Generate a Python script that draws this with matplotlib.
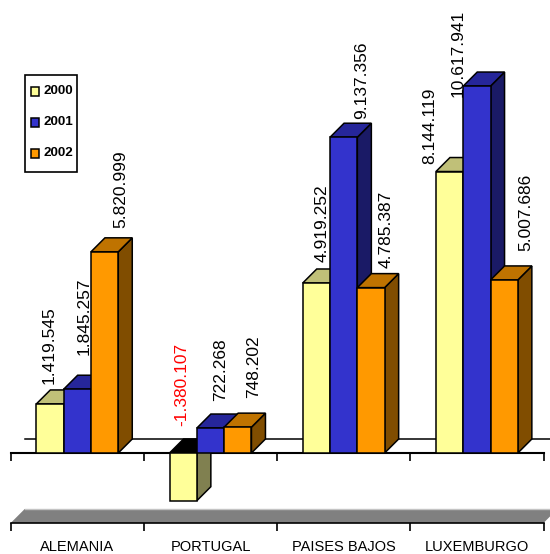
import matplotlib
matplotlib.use("Agg")
import matplotlib.pyplot as plt
import numpy as np
from matplotlib.patches import Polygon, Rectangle
from matplotlib.transforms import IdentityTransform

plt.rcParams['font.family'] = ['Liberation Sans', 'DejaVu Sans']

# data
paises = ['ALEMANIA', 'PORTUGAL', 'PAISES BAJOS', 'LUXEMBURGO']
years = ['2000', '2001', '2002']
v2000 = [1419545, -1380107, 4919252, 8144119]
v2001 = [1845257, 722268, 9137356, 10617941]
v2002 = [5820999, 748202, 4785387, 5007686]
labels2000 = ['1.419.545', '-1.380.107', '4.919.252', '8.144.119']
labels2001 = ['1.845.257', '722.268', '9.137.356', '10.617.941']
labels2002 = ['5.820.999', '748.202', '4.785.387', '5.007.686']

# colours: front, top, side
c_front = ['#FFFF99', '#3333CC', '#FF9900']
c_top = ['#C0C078', '#26269A', '#BF7300']
c_side = ['#808050', '#1A1A66', '#804D00']

W, H = 550, 554
PX_CAT = 133.2   # px per category
PX_UNIT = 34.56 / 1e6   # px per unit of value
X0 = 10.7
Y0 = 453
DEPTH = 14
BAR_W = 27.3 / PX_CAT

fig = plt.figure(figsize=(W / 100, H / 100), dpi=100)
ax = fig.add_axes([0, 0, 1, 1])
ax.set_xlim(-X0 / PX_CAT, (W - X0) / PX_CAT)
ax.set_ylim(-(H - Y0) / PX_UNIT, Y0 / PX_UNIT)
dx = DEPTH / PX_CAT
dy = DEPTH / PX_UNIT
px_y = 1 / PX_UNIT
LW = 1.1

for s in ['top', 'left', 'right']:
    ax.spines[s].set_visible(False)

# back line and front line of the zero level
ax.plot([dx, ax.get_xlim()[1]], [dy, dy], color='black', lw=LW, zorder=1)
ax.plot([0, 4], [0, 0], color='black', lw=1.5, zorder=1)
ax.vlines(range(5), -8 * px_y, 0, color='black', lw=1.2, zorder=1)

# grey floor
floor = -70 * px_y
ax.add_patch(Polygon([(0, floor), (dx, floor + dy), (4 + dx, floor + dy), (4, floor)],
                     closed=True, facecolor='#808080', edgecolor='none', zorder=1))
ax.plot([dx, ax.get_xlim()[1]], [floor + dy, floor + dy], color='#C4C4C4', lw=1, zorder=1)

# bottom axis with the categories
ax.spines['bottom'].set_position(('data', floor))
ax.spines['bottom'].set_bounds(0, 4)
ax.spines['bottom'].set_linewidth(1.2)
ax.set_yticks([])
ax.set_xticks(range(5))
ax.set_xticklabels([])
ax.tick_params(axis='x', which='major', length=5.8, width=1.2)
ax.set_xticks(np.arange(4) + 0.5, minor=True)
ax.set_xticklabels(paises, minor=True, fontsize=10.5)
ax.tick_params(axis='x', which='minor', length=0, pad=12)


def bar3d(x, val, k, z):
    top = max(val, 0)
    bot = min(val, 0)
    front = [(x, bot), (x + BAR_W, bot), (x + BAR_W, top), (x, top)]
    top_f = [(x, top), (x + BAR_W, top), (x + BAR_W + dx, top + dy), (x + dx, top + dy)]
    side = [(x + BAR_W, bot), (x + BAR_W + dx, bot + dy), (x + BAR_W + dx, top + dy), (x + BAR_W, top)]
    # the negative bar shows its dark inside on top
    ax.add_patch(Polygon(side, facecolor=c_side[k], edgecolor='black', lw=LW, zorder=z))
    ax.add_patch(Polygon(top_f, facecolor='black' if val < 0 else c_top[k], edgecolor='black', lw=LW, zorder=z))
    ax.add_patch(Polygon(front, facecolor=c_front[k], edgecolor='black', lw=LW, zorder=z))


series = [v2000, v2001, v2002]
names = [labels2000, labels2001, labels2002]
# label position in pixels: x centre and bottom end of the text
label_x = [[49, 84.5, 120.5], [181.5, 220.5, 253.5], [322.5, 361.5, 386.5], [429.5, 458, 525.5]]
label_y = [[384, 355, 228], [426, 401, 398], [262, 119, 268], [164, 97, 251]]

z = 2
for i in range(4):
    for k in range(3):
        x = i + 0.5 - 1.5 * BAR_W + k * BAR_W
        bar3d(x, series[k][i], k, z)
        z += 1
        ax.text(label_x[i][k], H - label_y[i][k], names[k][i], rotation=90,
                ha='center', va='bottom', fontsize=12.5,
                color='red' if series[k][i] < 0 else 'black',
                transform=IdentityTransform(), zorder=50)

# legend box, written by hand to get its tight shape
pix = IdentityTransform()
ax.add_patch(Rectangle((24.5, H - 171.5), 52, 96.5, facecolor='white', edgecolor='black',
                       lw=1.2, transform=pix, zorder=60))
for k in range(3):
    yc = H - (91 + 31 * k)
    ax.add_patch(Rectangle((31, yc - 4.5), 8, 9, facecolor=c_front[k], edgecolor='black',
                           lw=1.1, transform=pix, zorder=61))
    ax.text(43, yc, years[k], weight='bold', fontsize=9.6, ha='left',
            va='center', transform=pix, zorder=61)

fig.savefig('out.png', dpi=100)
